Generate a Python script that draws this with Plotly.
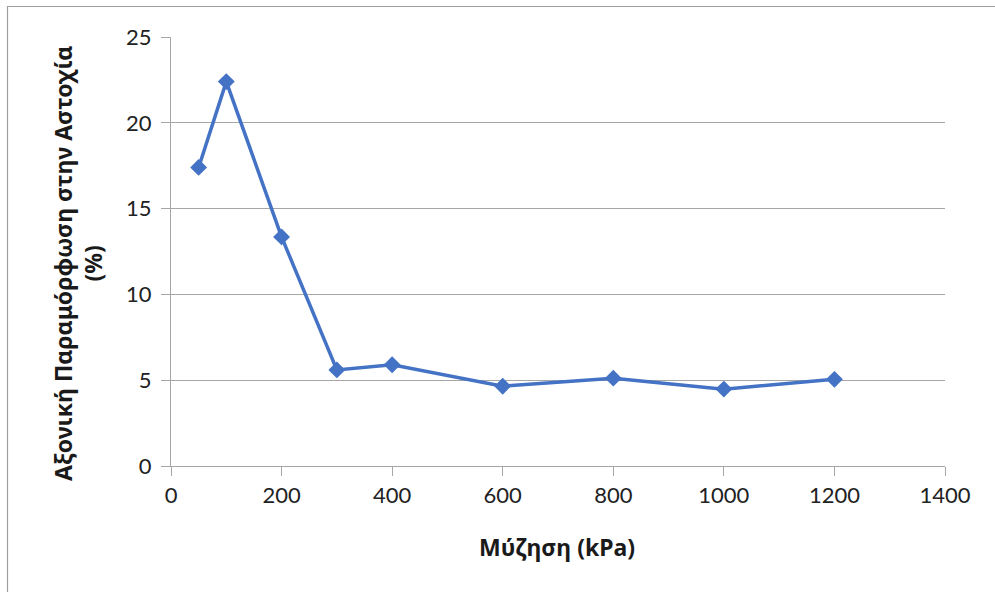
import plotly.graph_objects as go

# Suction vs. axial strain at failure
suction_kpa = [50, 100, 200, 300, 400, 600, 800, 1000, 1200]
axial_strain_pct = [17.4, 22.4, 13.35, 5.6, 5.9, 4.65, 5.12, 4.48, 5.05]

x_ticks = [0, 200, 400, 600, 800, 1000, 1200, 1400]
y_ticks = [0, 5, 10, 15, 20, 25]

W, H = 995, 592
L, R, T, B = 171, 50, 37, 126
pw, ph = W - L - R, H - T - B

def px_to_paper_x(px):
    return (px - L) / pw

def px_to_paper_y(py):
    return 1 - (py - T) / ph

line_color = "#4472C4"
grid_color = "#A6A6A6"
tick_family = "Lato, 'Open Sans', sans-serif"
title_family = "'Noto Sans', 'Open Sans', sans-serif"

fig = go.Figure()
fig.add_trace(go.Scatter(
    x=suction_kpa,
    y=axial_strain_pct,
    mode="lines+markers",
    line=dict(color=line_color, width=3.5),
    marker=dict(symbol="diamond", size=13, color=line_color),
    showlegend=False,
    hoverinfo="x+y",
))

fig.update_layout(
    width=W,
    height=H,
    margin=dict(l=L, r=R, t=T, b=B),
    paper_bgcolor="white",
    plot_bgcolor="white",
    font=dict(family=tick_family, size=22, color="#222222"),
    xaxis=dict(
        range=[0, 1400],
        tickvals=x_ticks,
        showgrid=False,
        zeroline=False,
        showline=True,
        linecolor=grid_color,
        linewidth=1.2,
        ticks="outside",
        ticklen=9,
        tickcolor=grid_color,
        tickwidth=1.2,
        tickfont=dict(size=22, color="#222222"),
        fixedrange=True,
    ),
    yaxis=dict(
        range=[0, 25],
        tickvals=y_ticks,
        showgrid=True,
        gridcolor=grid_color,
        gridwidth=1.2,
        zeroline=False,
        showline=True,
        linecolor=grid_color,
        linewidth=1.2,
        ticks="outside",
        ticklen=9,
        tickcolor=grid_color,
        tickwidth=1.2,
        tickfont=dict(size=22, color="#222222"),
        ticklabelstandoff=5,
        fixedrange=True,
    ),
)

# Axis titles
fig.add_annotation(
    text="<b>Μύζηση (kPa)</b>",
    xref="paper", yref="paper",
    x=px_to_paper_x(557), y=px_to_paper_y(547),
    showarrow=False, xanchor="center", yanchor="middle",
    font=dict(size=23, color="#1a1a1a", family=title_family),
)
fig.add_annotation(
    text="<b>Αξονική Παραμόρφωση στην Αστοχία</b><br><b>(%)</b>",
    xref="paper", yref="paper",
    x=px_to_paper_x(78), y=px_to_paper_y(264),
    showarrow=False, xanchor="center", yanchor="middle",
    textangle=-90,
    font=dict(size=23, color="#1a1a1a", family=title_family),
)

# Chart-area frame
fig.add_shape(
    type="rect",
    xref="paper", yref="paper",
    x0=px_to_paper_x(7.5), x1=px_to_paper_x(1010),
    y0=px_to_paper_y(610), y1=px_to_paper_y(6.5),
    line=dict(color="#9E9E9E", width=1.2),
    fillcolor="rgba(0,0,0,0)",
    layer="below",
)

fig.write_html("out.html")
